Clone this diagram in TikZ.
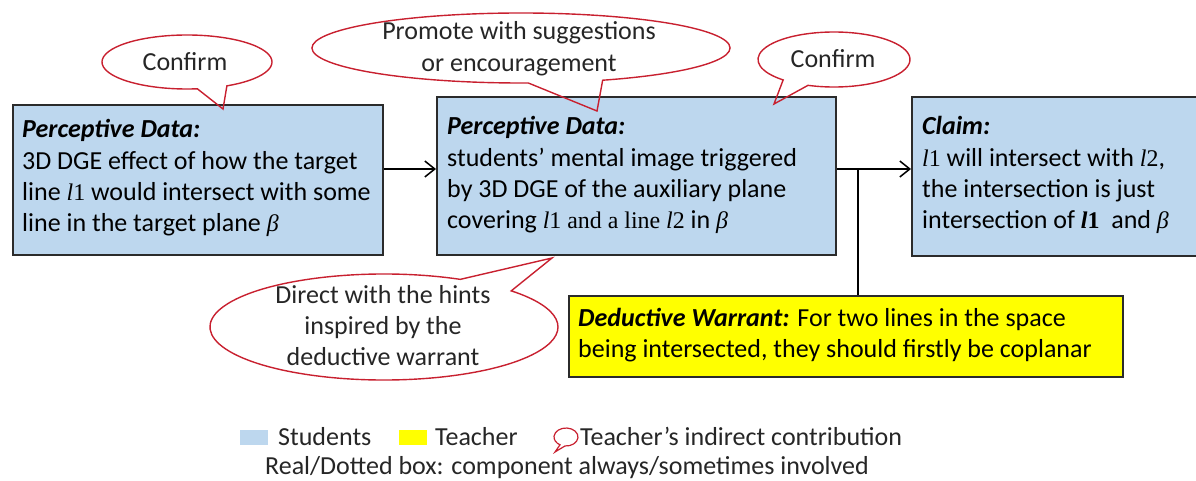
\documentclass[tikz,border=0pt]{standalone}
\usepackage{fontspec}
\setmainfont{Carlito}
\newfontfamily\tnr[Scale=0.92]{Liberation Serif}
\usetikzlibrary{arrows.meta,calc}
\definecolor{stu}{HTML}{BDD7EE}
\definecolor{tea}{HTML}{FFFF00}
\definecolor{callred}{HTML}{C8202F}
\definecolor{bord}{HTML}{2B2B2B}
\definecolor{ctext}{HTML}{262626}
\newcommand{\mylone}{{\tnr\itshape l}{\tnr 1}}
\newcommand{\myltwo}{{\tnr\itshape l}{\tnr 2}}
\newcommand{\mybeta}{{\tnr\itshape β}}
\newcommand{\myhead}[1]{\textbf{\textit{#1}}}
\begin{document}
\begin{tikzpicture}[x=1pt,y=1pt,font=\fontsize{26}{31}\selectfont,
  box/.style={draw=bord,line width=1.8pt,fill=stu,inner sep=0pt,anchor=north west},
  wbox/.style={draw=bord,line width=1.8pt,fill=tea,inner sep=0pt,anchor=north west},
  txt/.style={anchor=base west,align=left,inner sep=0pt,text=black},
  call/.style={draw=callred,line width=1.4pt,line join=miter},
  ctxt/.style={align=center,inner sep=0pt,text=ctext},
  arr/.style={-{Straight Barb[length=10pt,width=16pt,line width=1.5pt]},line width=1.5pt,draw=black},
  swatch/.style={inner sep=0pt,minimum width=28pt,minimum height=15pt}]
\useasboundingbox (0,0) rectangle (1196,-481);
\clip (0,0) rectangle (1196,-481);

% boxes
\node[box,minimum width=370pt,minimum height=150pt] (b1) at (12,-104) {};
\node[box,minimum width=399pt,minimum height=158pt] (b2) at (436,-96) {};
\node[box,minimum width=289pt,minimum height=159pt] (b3) at (911,-96) {};
\node[wbox,minimum width=554pt,minimum height=81pt] (yw) at (568,-295) {};

% box texts (anchor = baseline of the last line)
\node[txt] (t1) at (22,-231) {\myhead{Perceptive Data:}\\3D DGE effect of how the target\\line \mylone{} would intersect with some\\line in the target plane \mybeta};
\node[txt] (t2) at (447,-228) {\myhead{Perceptive Data:}\\students’ mental image triggered\\by 3D DGE of the auxiliary plane\\covering \mylone{} {\tnr and a line} \myltwo{} in \mybeta};
\node[txt] (t3) at (922,-228) {\myhead{Claim:}\\\mylone{} will intersect with \myltwo,\\the intersection is just\\intersection of {\tnr\bfseries\itshape l}{\tnr\bfseries 1}\ \ and \mybeta};
\node[txt] (t4) at (578,-357) {\myhead{Deductive Warrant:} For two lines in the space\\being intersected, they should firstly be coplanar};

% connectors
\coordinate (j) at (858,-169);
\draw[arr] (b1.east |- j) -- (b2.west |- j);
\draw[arr] (b2.east |- j) -- (b3.west |- j);
\draw[line width=1.5pt] (j) -- (j |- yw.north);

% callouts
\coordinate (c1) at (187,-62);
\draw[call] (c1) ++(-62:85 and 27) arc[start angle=-62,end angle=277,x radius=85,y radius=27] -- (223,-109) -- cycle;
\node[ctxt] (ct1) at (185,-62) {Confirm};

\coordinate (c2) at (521,-48);
\draw[call] (c2) ++(-67:209 and 35) arc[start angle=-67,end angle=272,x radius=209,y radius=35] -- (597,-111) -- cycle;
\node[ctxt] (ct2) at (519,-49) {Promote with suggestions\\[1pt]or encouragement};

\coordinate (c3) at (834,-59.5);
\draw[call] (c3) ++(250:76 and 27.5) arc[start angle=250,end angle=588,x radius=76,y radius=27.5] -- (774,-104) -- cycle;
\node[ctxt] (ct3) at (833,-59) {Confirm};

\coordinate (c4) at (384,-327);
\draw[call] (c4) ++(64:174 and 53) arc[start angle=64,end angle=403,x radius=174,y radius=53] -- (552,-258) -- cycle;
\node[ctxt] (ct4) at (383,-326) {Direct with the hints\\inspired by the\\deductive warrant};

% legend
\node[swatch,fill=stu] (ls) at (254,-437.5) {};
\node[anchor=base west,inner sep=0pt,text=ctext] (lst) at (278,-445) {Students};
\node[swatch,fill=tea] (lt) at (413,-437.5) {};
\node[anchor=base west,inner sep=0pt,text=ctext] (ltt) at (435,-445) {Teacher};
\coordinate (lc) at (566,-437);
\draw[call,line width=1.2pt] (lc) ++(265:12 and 9) arc[start angle=265,end angle=600,x radius=12,y radius=9] -- (555,-452) -- cycle;
\node[anchor=base west,inner sep=0pt,text=ctext] (lct) at (580,-445) {Teacher’s indirect contribution};
\node[anchor=base,inner sep=0pt,text=ctext] (lr) at (567,-474) {Real/Dotted box: component always/sometimes involved};
\end{tikzpicture}
\end{document}
